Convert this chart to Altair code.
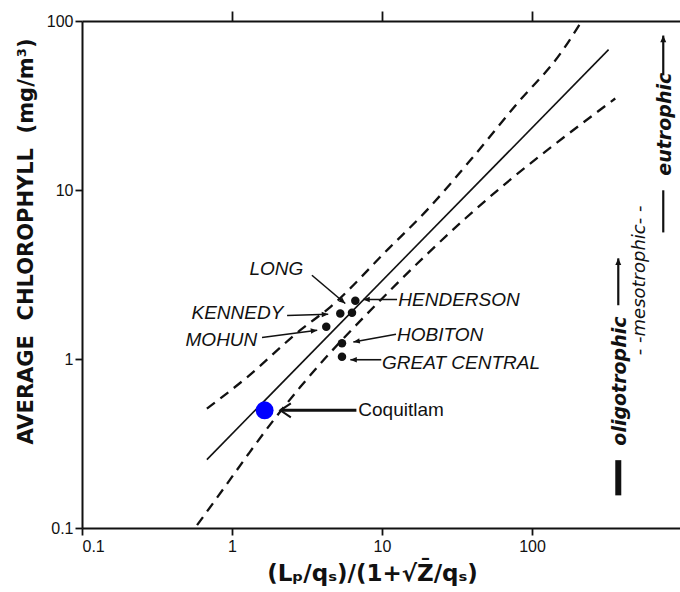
import math
import altair as alt
import pandas as pd

# ---------------- data ----------------
fit_x = [0.68, 324.0]
fit_y = [0.254, 67.7]

upper_x = [0.68, 1.23, 2.85, 4.52, 11.07, 19.95, 39.8, 79.4, 154.5, 215.0]
upper_y = [0.508, 0.766, 1.48, 2.03, 4.50, 7.60, 15.4, 32.4, 64.1, 100.0]

lower_x = [0.585, 0.879, 1.29, 1.89, 2.85, 11.35, 35.9, 359.0]
lower_y = [0.104, 0.171, 0.275, 0.434, 0.682, 2.55, 6.78, 34.8]

lakes = ["HENDERSON", "LONG", "KENNEDY", "MOHUN", "HOBITON", "GREAT CENTRAL"]
lake_x = [6.64, 6.31, 5.27, 4.25, 5.41, 5.41]
lake_y = [2.21, 1.88, 1.86, 1.55, 1.24, 1.03]
label_x = [12.85, 2.99, 2.20, 1.475, 12.6, 10.0]
label_y = [2.22, 3.40, 1.86, 1.29, 1.38, 0.944]
label_side = ["left", "right", "right", "right", "left", "left"]
arrow_x0 = [12.6, 3.41, 2.33, 1.585, 12.4, 9.89]
arrow_y0 = [2.25, 3.13, 1.81, 1.34, 1.40, 0.99]
arrow_x1 = [7.5, 5.69, 4.38, 3.70, 6.44, 6.15]
arrow_y1 = [2.25, 2.13, 1.84, 1.48, 1.26, 0.99]

coq_name = ["Coquitlam"]
coq_x = [1.65]
coq_y = [0.497]
coq_label_x = [6.95]
coq_arrow_x0 = [6.75]
coq_arrow_x1 = [2.10]

troph_labels = ["oligotrophic", "- -mesotrophic- -", "eutrophic"]
troph_x = [385.0, 527.0, 770.0]
troph_y = [0.74, 2.92, 24.5]
troph_arrow_x = [376.0, 750.0]
troph_arrow_y0 = [2.08, 47.7]
troph_arrow_y1 = [3.94, 82.0]
oligo_bar = {"x": [376.0], "y0": [0.156], "y1": [0.252]}
eutro_bar = {"x": [750.0], "y0": [5.61], "y1": [9.96]}

x_ticks = [0.1, 1, 10, 100]
y_ticks = [0.1, 1, 10, 100]

# ---------------- layout ----------------
W, H = 598, 507
XMIN, YMIN, YMAX = 0.1, 0.1, 100.0
XMAX = 10 ** (3 - 2 / 150)
INK = "#111111"
PXX = W / (math.log10(XMAX) - math.log10(XMIN))
PXY = H / (math.log10(YMAX) - math.log10(YMIN))


def screen_angle(x0, y0, x1, y1):
    dx = (math.log10(x1) - math.log10(x0)) * PXX
    dy = -(math.log10(y1) - math.log10(y0)) * PXY
    return math.degrees(math.atan2(dy, dx)) % 360


xs = alt.Scale(type="log", domain=[XMIN, XMAX], nice=False)
ys = alt.Scale(type="log", domain=[YMIN, YMAX], nice=False)

common = dict(grid=False, domainColor=INK, domainWidth=2, tickColor=INK,
              tickWidth=1.8, labelColor=INK, labelFont="Liberation Sans",
              labelFontSize=16)

NB = "\u00a0"
x_axis = alt.Axis(values=x_ticks, format="~g", tickSize=7, labelPadding=3,
                  title="(Lₚ/qₛ)/(1+√Z̄/qₛ)", titleFont="DejaVu Sans",
                  titleFontSize=23, titleFontWeight="bold", titleColor=INK,
                  titleX=290, titleY=45, titleAlign="center",
                  titleBaseline="middle", **common)
x_top = alt.Axis(orient="top", values=[1, 10, 100], labels=False, tickSize=10,
                 title=None, **common)
y_axis = alt.Axis(values=y_ticks, format="~g", tickSize=7, labelPadding=2,
                  title=f"AVERAGE{NB}{NB}CHLOROPHYLL{NB}{NB}(mg/m³)",
                  titleFont="DejaVu Sans",
                  titleFontSize=21, titleFontWeight="bold", titleColor=INK,
                  titleX=-56, titleY=220, titleAlign="center",
                  titleBaseline="middle", titleAngle=270, **common)


def Y(field):
    # y axis is only specified in the first layer; others inherit it
    return alt.Y(field, scale=ys)


fit_df = pd.DataFrame({"x": fit_x, "y": fit_y})
up_df = pd.DataFrame({"x": upper_x, "y": upper_y})
lo_df = pd.DataFrame({"x": lower_x, "y": lower_y})

fit = alt.Chart(fit_df).mark_line(color=INK, strokeWidth=1.6, clip=True).encode(
    x=alt.X("x:Q", scale=xs, axis=x_axis),
    y=alt.Y("y:Q", scale=ys, axis=y_axis),
)
upper = alt.Chart(up_df).mark_line(color=INK, strokeWidth=2.3, strokeDash=[10, 7],
                                   clip=True, interpolate="monotone").encode(
    x=alt.X("x:Q", scale=xs, axis=x_top),
    y=Y("y:Q"),
)
lower = alt.Chart(lo_df).mark_line(color=INK, strokeWidth=2.3, strokeDash=[10, 7],
                                   clip=True, interpolate="monotone").encode(
    x=alt.X("x:Q", scale=xs, axis=None),
    y=Y("y:Q"),
)

lake_df = pd.DataFrame({
    "lake": lakes, "x": lake_x, "y": lake_y,
    "lx": label_x, "ly": label_y, "side": label_side,
    "ax0": arrow_x0, "ay0": arrow_y0, "ax1": arrow_x1, "ay1": arrow_y1,
})
lake_df["ang"] = [screen_angle(a, b, c, d) for a, b, c, d in
                  zip(arrow_x0, arrow_y0, arrow_x1, arrow_y1)]

dots = alt.Chart(lake_df).mark_circle(color=INK, opacity=1, size=72).encode(
    x=alt.X("x:Q", scale=xs, axis=None), y=Y("y:Q"))

lab_l = alt.Chart(lake_df[lake_df.side == "left"]).mark_text(
    align="left", baseline="middle", font="Liberation Sans", fontStyle="italic",
    fontSize=19, color=INK).encode(
    x=alt.X("lx:Q", scale=xs, axis=None), y=Y("ly:Q"), text="lake:N")
lab_r = alt.Chart(lake_df[lake_df.side == "right"]).mark_text(
    align="right", baseline="middle", font="Liberation Sans", fontStyle="italic",
    fontSize=19, color=INK).encode(
    x=alt.X("lx:Q", scale=xs, axis=None), y=Y("ly:Q"), text="lake:N")

shafts = alt.Chart(lake_df).mark_rule(color=INK, strokeWidth=1.6).encode(
    x=alt.X("ax0:Q", scale=xs, axis=None), y=Y("ay0:Q"),
    x2="ax1:Q", y2="ay1:Q")
HEAD = "M0,0 L-2,-0.85 L-2,0.85 Z"
heads = alt.Chart(lake_df).mark_point(shape=HEAD, filled=True, color=INK,
                                      opacity=1, size=42).encode(
    x=alt.X("ax1:Q", scale=xs, axis=None), y=Y("ay1:Q"),
    angle=alt.Angle("ang:Q", scale=None))

coq_df = pd.DataFrame({"name": coq_name, "x": coq_x, "y": coq_y,
                       "lx": coq_label_x, "ax0": coq_arrow_x0, "ax1": coq_arrow_x1})
coq_dot = alt.Chart(coq_df).mark_circle(color="#0000FF", opacity=1, size=320).encode(
    x=alt.X("x:Q", scale=xs, axis=None), y=Y("y:Q"))
coq_shaft = alt.Chart(coq_df).mark_rule(color=INK, strokeWidth=3).encode(
    x=alt.X("ax0:Q", scale=xs, axis=None), x2="ax1:Q", y=Y("y:Q"))
coq_head = alt.Chart(coq_df).mark_point(shape="M1.5,-1 L0,0 L1.5,1", filled=False,
                                        color=INK, strokeWidth=2, opacity=1,
                                        size=196).encode(
    x=alt.X("ax1:Q", scale=xs, axis=None), y=Y("y:Q"))
coq_lab = alt.Chart(coq_df).mark_text(align="left", baseline="middle",
                                      font="Liberation Sans", fontSize=19,
                                      color=INK).encode(
    x=alt.X("lx:Q", scale=xs, axis=None), y=Y("y:Q"), text="name:N")

troph_df = pd.DataFrame({"t": troph_labels, "x": troph_x, "y": troph_y})
troph_bold = alt.Chart(troph_df[troph_df.t != troph_labels[1]]).mark_text(
    angle=270, align="center", baseline="middle", font="DejaVu Sans",
    fontStyle="italic", fontWeight="bold", fontSize=19, color=INK).encode(
    x=alt.X("x:Q", scale=xs, axis=None), y=Y("y:Q"), text="t:N")
troph_meso = alt.Chart(troph_df[troph_df.t == troph_labels[1]]).mark_text(
    angle=270, align="center", baseline="middle", font="DejaVu Sans",
    fontStyle="italic", fontSize=18, color=INK).encode(
    x=alt.X("x:Q", scale=xs, axis=None), y=Y("y:Q"), text="t:N")

tarr_df = pd.DataFrame({"x": troph_arrow_x, "y0": troph_arrow_y0, "y1": troph_arrow_y1})
tarr = alt.Chart(tarr_df).mark_rule(color=INK, strokeWidth=2.2).encode(
    x=alt.X("x:Q", scale=xs, axis=None), y=Y("y0:Q"), y2="y1:Q")
tarr_head = alt.Chart(tarr_df).mark_point(shape="M0,0 L-1,2.2 L1,2.2 Z", filled=True,
                                          color=INK, opacity=1, size=36).encode(
    x=alt.X("x:Q", scale=xs, axis=None), y=Y("y1:Q"))

ob = alt.Chart(pd.DataFrame(oligo_bar)).mark_rule(color=INK, strokeWidth=6).encode(
    x=alt.X("x:Q", scale=xs, axis=None), y=Y("y0:Q"), y2="y1:Q")
eb = alt.Chart(pd.DataFrame(eutro_bar)).mark_rule(color=INK, strokeWidth=2.2).encode(
    x=alt.X("x:Q", scale=xs, axis=None), y=Y("y0:Q"), y2="y1:Q")

chart = alt.layer(
    fit, upper, lower, shafts, heads, dots, lab_l, lab_r,
    coq_shaft, coq_head, coq_dot, coq_lab,
    tarr, tarr_head, ob, eb, troph_bold, troph_meso,
).resolve_axis(x="independent").properties(
    width=W, height=H,
    autosize=alt.AutoSizeParams(type="none"),
    padding={"left": 82, "top": 21, "right": 0, "bottom": 64},
    background="white",
).configure_view(stroke=None)

chart.save("out.html", embed_options={"renderer": "svg", "actions": False})
